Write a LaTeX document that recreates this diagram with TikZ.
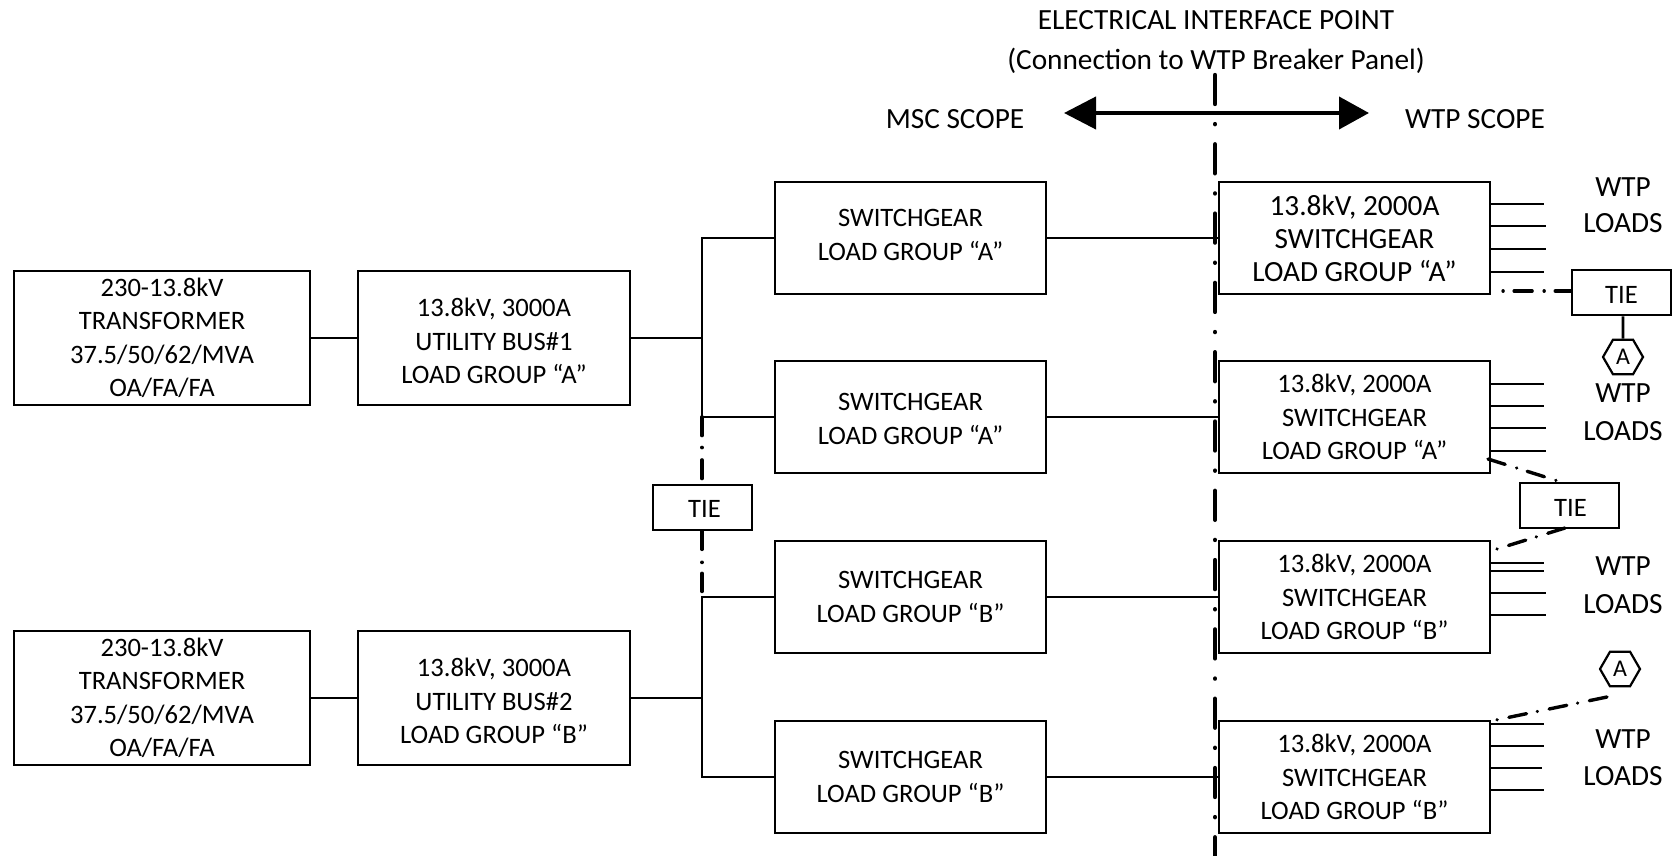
\documentclass[tikz,border=0pt]{standalone}
\usepackage{fontspec}
\setmainfont{Carlito}
\usetikzlibrary{shapes.geometric,arrows.meta}
\newcommand{\txs}{\fontsize{26.6}{33.5}\selectfont}
\newcommand{\txl}{\fontsize{29.3}{33}\selectfont}
\tikzset{
  box/.style={draw=black,line width=2.6pt,align=center,inner sep=0pt,text=black},
  xfbox/.style={box,minimum width=296pt,minimum height=134pt},
  busbox/.style={box,minimum width=272pt,minimum height=134pt},
  sgbox/.style={box,minimum width=271pt,minimum height=112pt},
  rbox/.style={box,minimum width=271pt,minimum height=112pt},
  tiebox/.style={box,minimum width=99pt,minimum height=45pt},
  hexa/.style={draw=black,line width=2.2pt,regular polygon,regular polygon sides=6,inner sep=0pt,minimum size=40pt,font=\fontsize{24}{24}\selectfont},
  lab/.style={align=center,inner sep=0pt,font=\txs},
  biglab/.style={align=center,inner sep=0pt,font=\fontsize{29.3}{36}\selectfont},
  wire/.style={line width=2.6pt,black},
  ddash/.style={line width=3.4pt,black,line cap=round,dash pattern=on 18pt off 12pt on 0.1pt off 11pt},
  ifline/.style={line width=4.4pt,black,line cap=round,dash pattern=on 29pt off 20.1pt on 0.1pt off 20.1pt},
  tiedasha/.style={line width=3.6pt,black,line cap=round,dash pattern=on 18.5pt off 12pt on 0.1pt off 12.4pt},
  tiedashb/.style={line width=3.6pt,black,line cap=round,dash pattern=on 18pt off 13pt on 0.1pt off 11pt}
}
\begin{document}
\begin{tikzpicture}[x=1pt,y=-1pt]
\useasboundingbox (0,0) rectangle (1673,856);
% interface line
\coordinate (ifa) at (1215,75);
\coordinate (ifb) at (1215,856);
\draw[ifline] (ifa) -- (ifb);
% boxes
\node[xfbox,font=\txs] (t1) at (162,338) {230-13.8kV\\TRANSFORMER\\37.5/50/62/MVA\\OA/FA/FA};
\node[xfbox,font=\txs] (t2) at (162,698) {230-13.8kV\\TRANSFORMER\\37.5/50/62/MVA\\OA/FA/FA};
\node[busbox] (u1) at (494,338) {};
\node[lab] (u1t) at (494,341) {13.8kV, 3000A\\UTILITY BUS\#1\\LOAD GROUP “A”};
\node[busbox] (u2) at (494,698) {};
\node[lab] (u2t) at (494,701) {13.8kV, 3000A\\UTILITY BUS\#2\\LOAD GROUP “B”};
\node[sgbox] (s1) at (910.5,238) {};
\node[lab] (s1t) at (910.5,235) {SWITCHGEAR\\LOAD GROUP “A”};
\node[sgbox] (s2) at (910.5,417) {};
\node[lab] (s2t) at (910.5,419) {SWITCHGEAR\\LOAD GROUP “A”};
\node[sgbox,font=\txs] (s3) at (910.5,597) {SWITCHGEAR\\LOAD GROUP “B”};
\node[sgbox,font=\txs] (s4) at (910.5,777) {SWITCHGEAR\\LOAD GROUP “B”};
\node[rbox,font=\txl] (r1) at (1354.5,238) {13.8kV, 2000A\\SWITCHGEAR\\LOAD GROUP “A”};
\node[rbox,font=\txs] (r2) at (1354.5,417) {13.8kV, 2000A\\SWITCHGEAR\\LOAD GROUP “A”};
\node[rbox,font=\txs] (r3) at (1354.5,597) {13.8kV, 2000A\\SWITCHGEAR\\LOAD GROUP “B”};
\node[rbox,font=\txs] (r4) at (1354.5,777) {13.8kV, 2000A\\SWITCHGEAR\\LOAD GROUP “B”};
\node[tiebox] (tl) at (702.5,507.5) {};
\node[lab] (tlt) at (704.5,508.5) {TIE};
\node[tiebox] (tr1) at (1621.5,292.5) {};
\node[lab] (tr1t) at (1621.5,295) {TIE};
\node[tiebox] (tr2) at (1569.5,505.5) {};
\node[lab] (tr2t) at (1570.5,507.5) {TIE};
\node[hexa] (h1) at (1623,357) {A};
\node[hexa] (h2) at (1620,669) {A};
% bus wiring
\coordinate (b1) at (702,338);
\coordinate (b2) at (702,698);
\coordinate (b1t) at (702,238);
\coordinate (b1b) at (702,417);
\coordinate (b2t) at (702,597);
\coordinate (b2b) at (702,777);
\draw[wire] (t1) -- (u1);
\draw[wire] (t2) -- (u2);
\draw[wire] (u1) -- (b1);
\draw[wire] (u2) -- (b2);
\draw[wire] (s1.west) -- (b1t) -- (b1b) -- (s2.west);
\draw[wire] (s3.west) -- (b2t) -- (b2b) -- (s4.west);
\foreach \i in {1,2,3,4}{\draw[wire] (s\i) -- (r\i);}
% tie on bus
\draw[tiedasha] (b1b) -- (tl.north -| b1b);
\draw[tiedashb] (tl.south -| b2t) -- (b2t);
% load lines
\foreach \b/\y/\e in {1/204/1544,1/226/1546,1/249/1546,1/272/1544,
 2/384/1544,2/406/1544,2/428/1546,2/451/1546,
 3/563/1544,3/571/1544,3/593/1546,3/615/1546,
 4/724/1544,4/746/1544,4/768/1542,4/790/1544}{
  \coordinate (ll) at (\e,\y);
  \draw[wire] (r\b.east |- ll) -- (ll);
}
% labels
\node[lab,font=\fontsize{29.3}{40.5}\selectfont] (ei) at (1216,42) {ELECTRICAL INTERFACE POINT\\(Connection to WTP Breaker Panel)};
\node[biglab] (msc) at (955,119) {MSC SCOPE};
\node[biglab] (wtp) at (1475,119) {WTP SCOPE};
\node[biglab] (w1) at (1623,205) {WTP\\LOADS};
\node[biglab,font=\fontsize{29.3}{38}\selectfont] (w2) at (1623,412) {WTP\\LOADS};
\node[biglab,font=\fontsize{29.3}{38}\selectfont] (w3) at (1623,585) {WTP\\LOADS};
\node[biglab,font=\fontsize{29.3}{37}\selectfont] (w4) at (1623,758) {WTP\\LOADS};
% scope arrow
\coordinate (al) at (1064,113);
\coordinate (ar) at (1369,113);
\draw[line width=4pt,black,{Triangle[width=32pt,length=32pt]}-{Triangle[width=32pt,length=30pt]}] (al) -- (ar);
% ties on the right
\coordinate (d1a) at (1503,291);
\coordinate (d2a) at (1488,459);
\coordinate (d2b) at (1558,481);
\coordinate (d3a) at (1565,528);
\coordinate (d3b) at (1497,549);
\coordinate (d4a) at (1607,697);
\coordinate (d4b) at (1496,720);
\draw[line width=3.4pt,black,line cap=round,dash pattern=on 0.1pt off 11pt on 18pt off 12pt] (d1a) -- (tr1.west |- d1a);
\draw[wire] (tr1.south -| h1) -- (h1.north);
\draw[ddash] (d2a) -- (d2b);
\draw[ddash] (d3a) -- (d3b);
\draw[ddash] (d4a) -- (d4b);
\end{tikzpicture}
\end{document}
